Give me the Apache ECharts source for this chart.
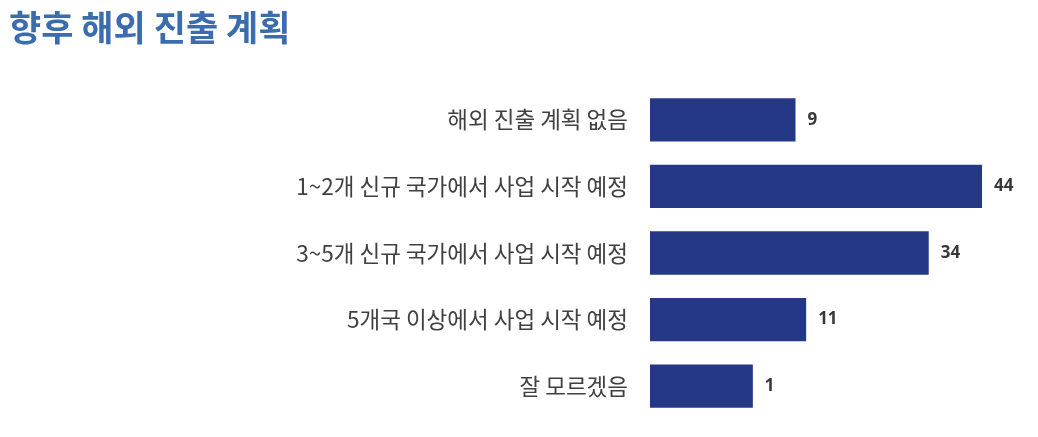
<!DOCTYPE html>
<html><head><meta charset="utf-8">
<script src="https://cdn.jsdelivr.net/npm/echarts@6/dist/echarts.min.js"></script>
<style>html,body{margin:0;padding:0;background:#fff}#c{width:1038px;height:437px}</style>
</head><body><div id="c"></div>
<script>
const categories = ['해외 진출 계획 없음','1~2개 신규 국가에서 사업 시작 예정','3~5개 신규 국가에서 사업 시작 예정','5개국 이상에서 사업 시작 예정','잘 모르겠음'];
const values = [9, 44, 34, 11, 1];
const axisMin = -18.3;
const axisMax = 50;

const chart = echarts.init(document.getElementById('c'));
chart.setOption({
  animation: false,
  title: {
    text: '향후 해외 진출 계획',
    left: 4, top: 5,
    textStyle: {fontFamily: 'Noto Sans CJK KR', fontWeight: 'bold', fontSize: 35, color: '#3a6cae'}
  },
  grid: {left: 650, width: 364, top: 86.5, bottom: 17.5},
  xAxis: {type: 'value', min: axisMin, max: axisMax, startValue: axisMin, show: false, splitLine: {show: false}},
  yAxis: {
    type: 'category', data: categories, inverse: true,
    axisLine: {show: false}, axisTick: {show: false},
    axisLabel: {fontFamily: 'Noto Sans CJK KR', fontSize: 22.5, color: '#404040', margin: 22}
  },
  series: [{
    type: 'bar', data: values, barCategoryGap: '35%',
    itemStyle: {color: '#243886'},
    label: {show: true, position: 'right', distance: 12, fontFamily: 'Open Sans', fontWeight: 'bold', fontSize: 17, color: '#383838'}
  }]
});
</script></body></html>
